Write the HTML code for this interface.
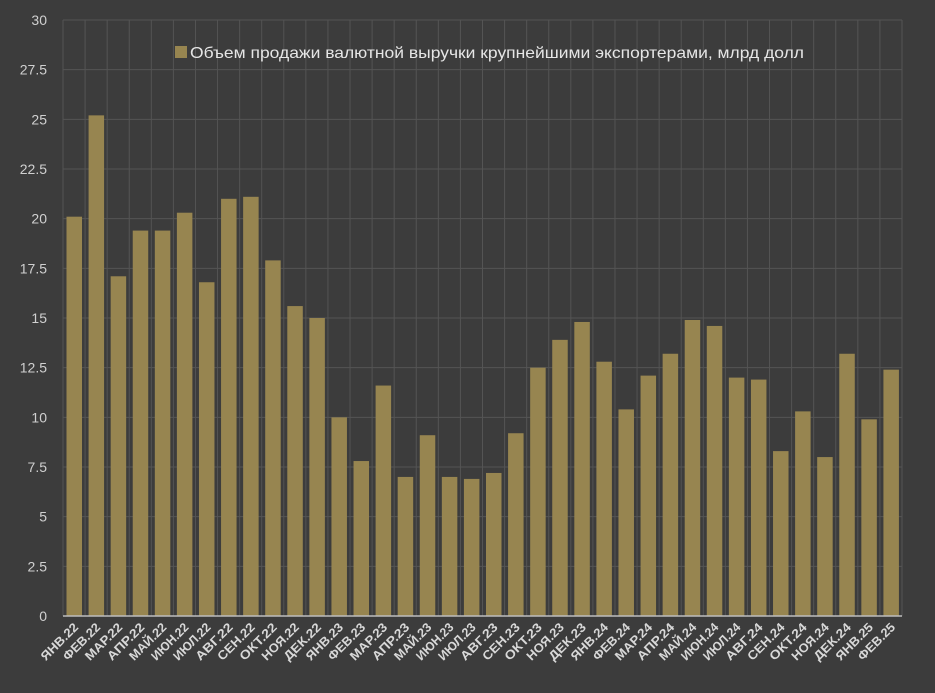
<!DOCTYPE html>
<html><head><meta charset="utf-8"><style>
html,body{margin:0;padding:0;background:#3c3c3c;}
svg{display:block;}
</style></head><body>
<svg id="c" width="935" height="693" xmlns="http://www.w3.org/2000/svg" font-family="Liberation Sans, sans-serif">
<rect width="935" height="693" fill="#3c3c3c"/>
<g id="g"></g>
</svg>
<script>
const vals=[20.1,25.2,17.1,19.4,19.4,20.3,16.8,21.0,21.1,17.9,15.6,15.0,10.0,7.8,11.6,7.0,9.1,7.0,6.9,7.2,9.2,12.5,13.9,14.8,12.8,10.4,12.1,13.2,14.9,14.6,12.0,11.9,8.3,10.3,8.0,13.2,9.9,12.4];
const m=['ЯНВ','ФЕВ','МАР','АПР','МАЙ','ИЮН','ИЮЛ','АВГ','СЕН','ОКТ','НОЯ','ДЕК'];
const labels=[];for(let y=22;y<=25;y++)for(let i=0;i<12;i++){if(y==25&&i>1)break;labels.push(m[i]+'.'+y);}
const L=63,R=902,T=20,B=616,band=(R-L)/38,sc=(B-T)/30;
let s='';
for(let i=0;i<=38;i++){const x=L+band*i;s+=`<line x1="${x}" y1="${T}" x2="${x}" y2="${B}" stroke="#545454" stroke-width="1"/>`;}
for(let k=0;k<=12;k++){const v=k*2.5,y=B-v*sc;s+=`<line x1="${L}" y1="${y}" x2="${R}" y2="${y}" stroke="#545454" stroke-width="1"/>`;
s+=`<text x="47" y="${y+5}" text-anchor="end" font-size="14" fill="#d0d0d0">${v}</text>`;}
vals.forEach((v,i)=>{const x=L+band*i+3.5,h=v*sc;s+=`<rect x="${x}" y="${B-h}" width="15.5" height="${h}" fill="#978550"/>`;
const cx=L+band*i+band/2+5;s+=`<text transform="translate(${cx},${628}) rotate(-45)" text-anchor="end" font-size="12.5" font-weight="bold" fill="#d8d8d8" textLength="${labels[i].length>6?52:47}" lengthAdjust="spacingAndGlyphs">${labels[i]}</text>`;});
s+=`<line x1="${L}" y1="${B}" x2="${R}" y2="${B}" stroke="#bdbdbd" stroke-width="1.5"/>`;
s+=`<rect x="175" y="46" width="12" height="12" fill="#978550"/>`;
s+=`<text x="190" y="58" font-size="16" fill="#e6e6e6" textLength="614" lengthAdjust="spacingAndGlyphs">Объем продажи  валютной выручки крупнейшими экспортерами, млрд долл</text>`;
document.getElementById('g').innerHTML=s;
</script>
</body></html>
